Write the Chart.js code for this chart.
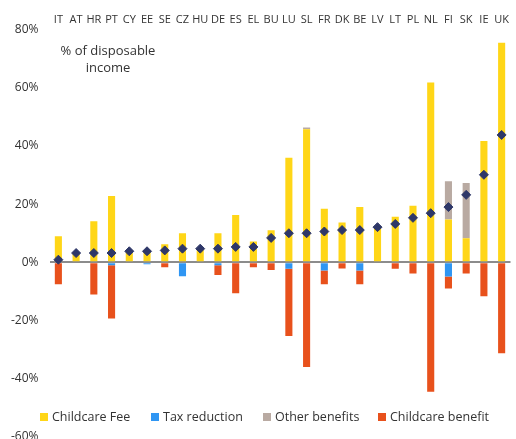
<!DOCTYPE html>
<html>
<head>
<meta charset="utf-8">
<script src="https://cdn.jsdelivr.net/npm/chart.js@4/dist/chart.umd.min.js"></script>
<style>
  html, body { margin: 0; padding: 0; background: #fff; overflow: hidden; }
  #wrap { position: relative; width: 516px; height: 439px; overflow: hidden; font-family: "Open Sans", sans-serif; color: #333; }
  #note { position: absolute; left: 56px; top: 42px; width: 104px; text-align: center; font-size: 13px; line-height: 17px; }
  #legend { position: absolute; left: 40px; top: 408px; display: flex; font-size: 12.5px; }
  #legend span.item { display: flex; align-items: center; white-space: nowrap; }
  #legend i { display: inline-block; width: 8px; height: 8px; margin-right: 4px; }
</style>
</head>
<body>
<div id="wrap">
  <canvas id="chart" width="516" height="455"></canvas>
  <div id="note">% of disposable income</div>
  <div id="legend"></div>
</div>
<script>
// ── DATA ──────────────────────────────────────────────────────
const countries = ["IT","AT","HR","PT","CY","EE","SE","CZ","HU","DE","ES","EL","BU",
                   "LU","SL","FR","DK","BE","LV","LT","PL","NL","FI","SK","IE","UK"];

const childcareFee     = [9.0, 3.2, 14.1, 22.8, 3.8, 4.0, 6.2, 10.0, 4.9, 10.0, 16.3, 7.2, 11.0,
                          36.0, 45.8, 18.4, 13.7, 19.0, 12.4, 15.7, 19.5, 61.8, 14.7, 8.3, 41.7, 75.5];
const taxReduction     = [null, null, null, -1.0, null, -0.7, null, -4.8, null, -1.0, null, null, null,
                          -2.2, null, -2.8, null, -2.8, null, null, null, null, -4.9, null, null, null];
const otherBenefits    = [null, null, null, null, null, null, null, null, null, null, null, null, null,
                          null, 0.6, null, null, null, null, null, null, null, 13.2, 19.0, null, null];
const childcareBenefit = [-7.5, null, -11.1, -18.3, null, null, -1.7, null, null, -3.4, -10.6, -1.7, -2.6,
                          -23.1, -36.0, -4.7, -2.1, -4.7, null, -2.2, -3.8, -44.5, -4.1, -3.8, -11.7, -31.3];
const netCost          = [0.9, 3.2, 3.2, 3.2, 3.8, 3.8, 4.1, 4.7, 4.7, 4.7, 5.3, 5.3, 8.4,
                          10.0, 10.0, 10.6, 11.1, 11.1, 12.1, 13.2, 15.3, 16.9, 19.0, 23.2, 30.1, 43.8];

const yTicks = [-60, -40, -20, 0, 20, 40, 60, 80];

const colors = {
  fee: "#ffd617",
  tax: "#2f96f3",
  other: "#b9aaa2",
  benefit: "#e8511c",
  net: "#2e3768",
  zero: "#8c8c8c",
};

// ── LEGEND ────────────────────────────────────────────────────
const legendItems = [
  ["Childcare Fee", colors.fee, 111],
  ["Tax reduction", colors.tax, 112],
  ["Other benefits", colors.other, 115],
  ["Childcare benefit", colors.benefit, 0],
];
document.getElementById("legend").innerHTML = legendItems
  .map(([label, c, w]) =>
    `<span class="item" style="${w ? "width:" + w + "px" : ""}"><i style="background:${c}"></i>${label}</span>`)
  .join("");

// ── CHART ─────────────────────────────────────────────────────
const barBase = { barPercentage: 0.4, categoryPercentage: 1, stack: "cost" };

new Chart(document.getElementById("chart"), {
  type: "bar",
  data: {
    labels: countries,
    datasets: [
      { ...barBase, label: "Childcare Fee", data: childcareFee, backgroundColor: colors.fee },
      { ...barBase, label: "Tax reduction", data: taxReduction, backgroundColor: colors.tax },
      { ...barBase, label: "Other benefits", data: otherBenefits, backgroundColor: colors.other },
      { ...barBase, label: "Childcare benefit", data: childcareBenefit, backgroundColor: colors.benefit },
      {
        type: "line",
        label: "Net cost",
        data: netCost,
        stack: "net",
        showLine: false,
        pointStyle: "rectRot",
        pointRadius: 4.5,
        pointBackgroundColor: colors.net,
        pointBorderColor: colors.net,
        order: -1,
      },
    ],
  },
  options: {
    responsive: false,
    animation: false,
    layout: { padding: { top: 10.5, right: 0, bottom: 0, left: 0 } },
    plugins: { legend: { display: false }, tooltip: { enabled: false } },
    scales: {
      x: {
        position: "top",
        stacked: true,
        grid: { display: false, drawTicks: false },
        border: { display: false },
        ticks: { color: "#333", font: { family: "Open Sans", size: 11 }, autoSkip: false, maxRotation: 0, padding: 3 },
      },
      y: {
        stacked: true,
        min: -60,
        max: 80,
        afterBuildTicks: (axis) => { axis.ticks = yTicks.map((v) => ({ value: v })); },
        grid: {
          drawTicks: false,
          color: (ctx) => (ctx.tick && ctx.tick.value === 0 ? colors.zero : "transparent"),
          lineWidth: 2,
        },
        border: { display: false },
        ticks: {
          color: "#333",
          font: { family: "Open Sans", size: 12 },
          padding: 11,
          callback: (v) => v + "%",
        },
      },
    },
  },
});
</script>
</body>
</html>
